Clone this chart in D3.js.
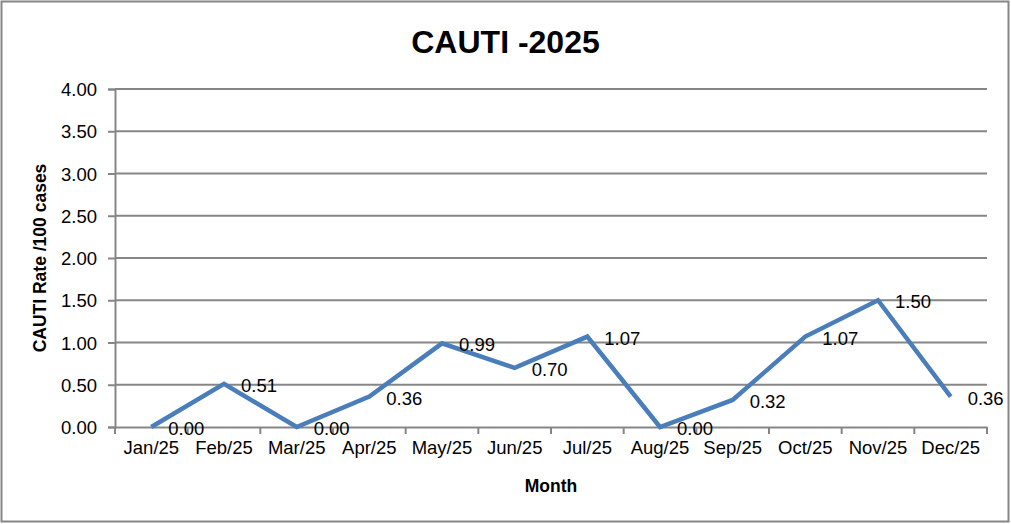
<!DOCTYPE html>
<html>
<head>
<meta charset="utf-8">
<script src="https://cdn.jsdelivr.net/npm/d3@7"></script>
<style>
  html, body { margin: 0; padding: 0; background: #fff; }
  svg { display: block; font-family: "Liberation Sans", Arial, sans-serif; }
</style>
</head>
<body>
<div id="chart"></div>
<script>
// data
const months = ["Jan/25", "Feb/25", "Mar/25", "Apr/25", "May/25", "Jun/25",
                "Jul/25", "Aug/25", "Sep/25", "Oct/25", "Nov/25", "Dec/25"];
const rates = [0.00, 0.51, 0.00, 0.36, 0.99, 0.70, 1.07, 0.00, 0.32, 1.07, 1.50, 0.36];
const yTicks = [0, 0.5, 1, 1.5, 2, 2.5, 3, 3.5, 4];

const W = 1011, H = 524;
const margin = {top: 89, right: 24, bottom: 97, left: 115};
const width = W - margin.left - margin.right,
  height = H - margin.top - margin.bottom;

const svg = d3.select("#chart").append("svg")
  .attr("width", W)
  .attr("height", H);

// chart border
svg.append("rect")
  .attr("x", 1.5).attr("y", 1.5)
  .attr("width", W - 4).attr("height", H - 4)
  .attr("fill", "#fff")
  .attr("stroke", "#868686")
  .attr("stroke-width", 2);

const g = svg.append("g")
  .attr("transform", "translate(" + margin.left + "," + margin.top + ")");

const x = d3.scaleBand().domain(months).range([0, width]);
const y = d3.scaleLinear().domain([0, 4]).range([height, 0]);

// gridlines
g.selectAll(".grid")
  .data(yTicks.slice(1)).join("line")
  .attr("x1", 0).attr("x2", width)
  .attr("y1", d => y(d)).attr("y2", d => y(d))
  .attr("stroke", "#868686").attr("stroke-width", 2);

// y axis
const yAxis = g.append("g")
  .call(d3.axisLeft(y).tickValues(yTicks).tickFormat(d3.format(".2f")).tickSize(7).tickPadding(11));
yAxis.select(".domain").attr("stroke", "#868686").attr("stroke-width", 2);
yAxis.selectAll(".tick line").attr("stroke", "#868686").attr("stroke-width", 2);
yAxis.selectAll("text").attr("font-size", 18.5).attr("fill", "#000").attr("dy", "0.36em");

// x axis with ticks on category boundaries
const xAxis = g.append("g").attr("transform", "translate(0," + height + ")")
  .call(d3.axisBottom(x).tickSize(0).tickPadding(14));
xAxis.select(".domain").attr("stroke", "#868686").attr("stroke-width", 2);
xAxis.selectAll("text").attr("font-size", 18.5).attr("fill", "#000");
g.selectAll(".xtick")
  .data(months.map(m => x(m)).concat([width])).join("line")
  .attr("x1", d => d).attr("x2", d => d)
  .attr("y1", height).attr("y2", height + 7)
  .attr("stroke", "#868686").attr("stroke-width", 2);

// the line
const line = d3.line()
  .x((d, i) => x(months[i]) + x.bandwidth() / 2)
  .y(d => y(d));
g.append("path")
  .datum(rates)
  .attr("d", line)
  .attr("fill", "none")
  .attr("stroke", "#4A7EBB")
  .attr("stroke-width", 4.5)
  .attr("stroke-linejoin", "miter");

// data labels
g.selectAll(".lbl")
  .data(rates).join("text")
  .attr("x", (d, i) => x(months[i]) + x.bandwidth() / 2 + 17)
  .attr("y", d => y(d) + 8)
  .attr("font-size", 18.5)
  .text(d => d.toFixed(2));

// titles
svg.append("text")
  .attr("x", W / 2).attr("y", 53)
  .attr("text-anchor", "middle")
  .attr("font-size", 32).attr("font-weight", "bold")
  .text("CAUTI -2025");

svg.append("text")
  .attr("x", margin.left + width / 2).attr("y", 492)
  .attr("text-anchor", "middle")
  .attr("font-size", 17.5).attr("font-weight", "bold")
  .text("Month");

svg.append("text")
  .attr("transform", "translate(46," + (margin.top + height / 2) + ") rotate(-90)")
  .attr("text-anchor", "middle")
  .attr("font-size", 17.5).attr("font-weight", "bold")
  .text("CAUTI Rate /100 cases");
</script>
</body>
</html>
